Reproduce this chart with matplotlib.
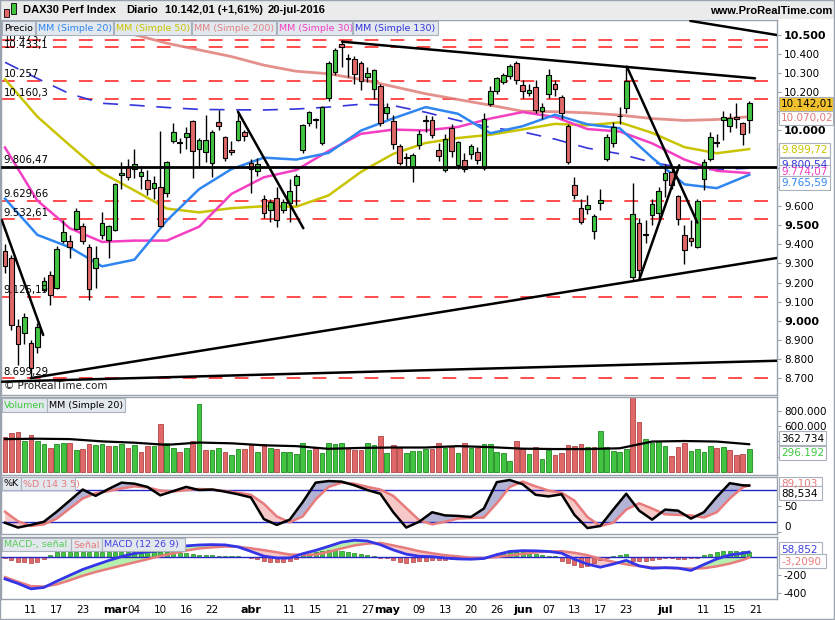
import numpy as np
import matplotlib
matplotlib.use("Agg")
import matplotlib.pyplot as plt
from matplotlib.patches import Rectangle

# daily candles 5-feb-2016 .. 20-jul-2016
opens = [9367, 9329, 8974, 8935, 8885, 8860, 9161, 9240, 9171, 9418,
         9418, 9481, 9498, 9388, 9276, 9450, 9423, 9476, 9764, 9805,
         9796, 9760, 9740, 9696, 9700, 9670, 9940, 9935, 9963, 10047,
         9900, 9885, 9827, 10042, 9963, 9895, 9948, 9990, 9826, 9785,
         9638, 9580, 9643, 9580, 9617, 9712, 9895, 10037, 10058, 9932,
         10168, 10304, 10451, 10370, 10372, 10351, 10278, 10215, 10231, 10089,
         10047, 9916, 9855, 9806, 9921, 10052, 10052, 9895, 9790, 10010,
         9816, 9843, 9874, 9885, 9800, 10136, 10204, 10252, 10283, 10351,
         10236, 10194, 10225, 10100, 10189, 10241, 10175, 10021, 9712, 9591,
         9586, 9472, 9616, 9848, 9932, 10073, 10114, 9231, 9511, 9455,
         9554, 9563, 9738, 9781, 9654, 9449, 9434, 9388, 9743, 9846,
         9935, 10052, 10021, 10070, 10035, 10050]
highs = [9400, 9345, 9010, 9040, 8900, 8990, 9230, 9260, 9390, 9530,
         9450, 9590, 9510, 9400, 9390, 9570, 9500, 9720, 9830, 9850,
         9900, 9810, 9790, 9760, 9995, 9840, 10037, 9960, 10016, 10052,
         9960, 10080, 10000, 10105, 9970, 9940, 10090, 10000, 9850, 9855,
         9660, 9640, 9700, 9640, 9745, 9770, 10030, 10100, 10065, 10125,
         10360, 10430, 10474, 10400, 10390, 10360, 10330, 10320, 10240, 10140,
         10080, 9925, 9880, 9880, 10000, 10080, 10075, 9930, 9980, 10030,
         9940, 9880, 9925, 9910, 10090, 10230, 10280, 10300, 10345, 10360,
         10260, 10240, 10260, 10140, 10320, 10260, 10185, 10030, 9755, 9640,
         9660, 9560, 9690, 9980, 10040, 10120, 10335, 9720, 9540, 9530,
         9640, 9700, 9820, 9800, 9660, 9500, 9530, 9640, 9850, 9990,
         9980, 10100, 10090, 10140, 10040, 10150]
lows = [9250, 8950, 8770, 8880, 8699, 8830, 9150, 9080, 9165, 9410,
        9330, 9475, 9400, 9110, 9170, 9430, 9330, 9470, 9690, 9740,
        9750, 9690, 9660, 9640, 9490, 9650, 9930, 9880, 9900, 9748,
        9811, 9830, 9753, 10000, 9840, 9870, 9940, 9940, 9668, 9760,
        9540, 9520, 9490, 9565, 9520, 9605, 9880, 10020, 10010, 9920,
        10150, 10290, 10330, 10280, 10240, 10210, 10250, 10160, 10020, 10060,
        9900, 9815, 9810, 9727, 9900, 9990, 9960, 9840, 9780, 9860,
        9795, 9780, 9850, 9820, 9790, 10125, 10190, 10240, 10270, 10240,
        10170, 10180, 10090, 10060, 10170, 10180, 10060, 9820, 9640, 9505,
        9560, 9430, 9580, 9840, 9910, 10030, 10090, 9214, 9220, 9410,
        9500, 9540, 9650, 9690, 9500, 9297, 9390, 9380, 9685, 9840,
        9910, 9950, 9990, 10010, 9920, 9986]
closes = [9286, 8979, 8879, 9018, 8752, 8967, 9206, 9135, 9377, 9464,
          9388, 9574, 9416, 9167, 9331, 9513, 9495, 9717, 9776, 9752,
          9824, 9778, 9692, 9723, 9498, 9831, 9990, 9933, 9983, 9892,
          9950, 9948, 9990, 10022, 9851, 9887, 10046, 9966, 9794, 9822,
          9564, 9624, 9530, 9622, 9682, 9761, 10027, 10094, 10051, 10120,
          10350, 10421, 10435, 10373, 10294, 10259, 10300, 10315, 10039, 10123,
          9926, 9828, 9851, 9870, 9980, 10045, 9975, 9862, 9952, 9890,
          9935, 9795, 9916, 9842, 10057, 10205, 10272, 10286, 10333, 10263,
          10205, 10208, 10103, 10121, 10288, 10217, 10088, 9834, 9657, 9519,
          9606, 9550, 9631, 9962, 10015, 10071, 10257, 9557, 9268, 9447,
          9612, 9680, 9776, 9709, 9532, 9373, 9418, 9629, 9833, 9964,
          9930, 10068, 10062, 10058, 9981, 10142]
volumes_k = [454, 506, 519, 409, 480, 405, 362, 318, 362, 379,
             385, 288, 299, 362, 353, 366, 340, 340, 366, 310,
             353, 257, 340, 340, 623, 385, 320, 266, 320, 405,
             885, 288, 288, 310, 266, 222, 297, 300, 362, 257,
             362, 320, 297, 266, 257, 231, 375, 288, 320, 244,
             375, 362, 385, 320, 288, 288, 375, 353, 471, 244,
             353, 320, 244, 275, 275, 300, 300, 385, 310, 331,
             253, 375, 310, 310, 362, 362, 266, 244, 144, 405,
             300, 231, 331, 165, 288, 222, 244, 353, 340, 366,
             331, 331, 536, 331, 275, 266, 297, 1100, 650, 431,
             375, 405, 344, 209, 331, 385, 279, 297, 257, 340,
             320, 331, 288, 222, 235, 300]

# moving averages, read every 5th session
ma20 = [9640, 9450, 9385, 9285, 9320, 9525, 9690, 9795, 9855, 9845, 9880, 9997,
        10061, 10120, 10085, 9983, 10020, 10080, 10030, 10009, 9855, 9715, 9695, 9765]
ma30 = [9908, 9630, 9485, 9413, 9420, 9420, 9493, 9665, 9752, 9790, 9890, 9980,
        10002, 9998, 10016, 10060, 10094, 10068, 10005, 9992, 9930, 9845, 9786, 9774]
ma50 = [10266, 10070, 9920, 9775, 9683, 9588, 9568, 9590, 9600, 9598, 9657, 9780,
        9875, 9932, 9958, 9975, 10003, 10032, 10025, 10040, 9985, 9910, 9878, 9900]
ma130 = [10355, 10270, 10190, 10140, 10130, 10118, 10108, 10106, 10105, 10110, 10120, 10135,
         10128, 10093, 10050, 10014, 9990, 9952, 9905, 9875, 9830, 9800, 9791, 9800]
ma200 = [10680, 10650, 10615, 10560, 10500, 10455, 10420, 10385, 10340, 10308, 10295, 10265,
         10228, 10190, 10160, 10130, 10098, 10096, 10090, 10078, 10060, 10050, 10055, 10070]
vol_ma_k = [430, 435, 430, 400, 383, 355, 385, 375, 349, 338, 303, 315,
            320, 320, 338, 325, 305, 300, 300, 310, 398, 405, 398, 363]

# stochastic and MACD, read every 2nd session
stoch_k = [18, 9, 14, 20, 39, 60, 81, 69, 82, 94, 92, 86, 70, 78, 86, 80, 81, 77, 72, 66,
           25, 14, 24, 57, 94, 97, 96, 89, 80, 73, 38, 9, 20, 38, 32, 31, 29, 45, 95, 99,
           91, 71, 68, 72, 33, 8, 12, 43, 73, 41, 24, 43, 41, 26, 38, 67, 93, 89, 88.5]
stoch_d = [39, 21, 12, 15, 26, 45, 64, 74, 78, 83, 87, 85, 79, 77, 80, 82, 81, 78, 75, 71,
           54, 30, 19, 30, 62, 86, 94, 92, 86, 81, 69, 46, 23, 15, 20, 26, 27, 28, 55, 86,
           96, 87, 79, 75, 60, 29, 12, 18, 43, 55, 45, 34, 33, 32, 28, 38, 64, 85, 89]
macd = [-240, -290, -350, -335, -265, -200, -135, -85, -36, 8, 43, 61, 72, 95, 127, 137,
        141, 138, 116, 66, 13, -8, -8, 40, 77, 122, 168, 190, 181, 140, 82, 35, 12, 7,
        -8, -18, -21, -13, 30, 65, 74, 72, 65, 46, -21, -76, -110, -75, -34, -95, -122,
        -115, -120, -146, -80, -18, 26, 45, 59]
signal = [-220, -272, -320, -325, -300, -255, -205, -163, -127, -92, -56, -22, 14, 44, 75,
          99, 110, 120, 117, 100, 79, 56, 31, 28, 30, 60, 98, 132, 152, 160, 132, 102, 68,
          45, 24, 10, -4, -8, 4, 22, 37, 55, 64, 68, 50, 24, -17, -50, -78, -98, -112, -117,
          -121, -126, -121, -100, -70, -30, -3]
macd_hist = [-11, -30, -48, -56, -67, -56, -20, 30, 55, 58,
             60, 60, 58, 60, 62, 60, 58, 60, 62, 60,
             58, 58, 60, 60, 58, 55, 55, 52, 48, 37,
             30, 28, 26, 15, 12, 10, 10, 8, -5, -20,
             -40, -50, -55, -50, -40, -20, 31, 41, 55, 70,
             78, 81, 75, 62, 48, 35, 26, 18, -3, -11,
             -30, -48, -60, -56, -45, -40, -30, -30, -30, -20,
             -15, -11, -8, -5, -3, 20, 41, 55, 55, 63,
             55, 45, 37, 26, 18, 18, -41, -67, -85, -104,
             -93, -67, -30, -10, 10, 25, 35, -41, -41, -41,
             -30, -20, -11, -11, -15, -15, -11, -5, 31, 41,
             55, 65, 72, 70, 66, 62]

# horizontal levels and hand drawn trend lines (session index, price)
red_levels = [10473.7, 10433.1, 10257.0, 10160.3, 9629.66, 9532.61, 9125.19, 8699.29]
red_labels = ["10.473,7", "10.433,1", "10.257", "10.160,3", "9.629,66", "9.532,61", "9.125,19", "8.699,29"]
black_level = 9806.47
trend_lines = [((52.1, 10463), (115.9, 10271)), ((105.9, 10572), (119.3, 10498)),
               ((4, 8699), (119.3, 9329)), ((-0.7, 8680), (119.3, 8790)),
               ((-0.5, 9528), (5.9, 8925)), ((36.0, 10096), (46.1, 9485)),
               ((96.1, 10332), (107.0, 9514)), ((98.0, 9214), (104.2, 9815))]

date_pos = [4, 8, 12, 17, 20, 24, 28, 32, 38, 44, 48, 52, 56, 59, 64, 68, 72, 76, 80, 84,
            88, 92, 96, 102, 108, 112, 116]
date_txt = ["11", "17", "23", "mar", "04", "10", "16", "22", "abr", "11", "15", "21", "27",
            "may", "09", "13", "20", "26", "jun", "07", "13", "17", "23", "jul", "11", "15", "21"]
months = {"mar", "abr", "may", "jun", "jul"}

GREEN = '#41c441'
RED = '#e06868'
SALMON = '#e87c7c'
BLUE20 = '#2f86f0'
YEL = '#c9c400'
MAG = '#f43fc2'
NAVY = '#3434dc'
FRAME = '#9aa3ad'

W, H = 835, 620
fig = plt.figure(figsize=(W / 100, H / 100), dpi=100)
fig.patch.set_facecolor('white')


def fx(px):
    return px / W


def fy(py):
    return 1 - py / H


def panel(top, bottom):
    return fig.add_axes([fx(1), fy(bottom), 776 / W, (bottom - top) / H])


def rect(x0, y0, x1, y1, fc, ec='none', lw=0.8, z=5):
    fig.add_artist(Rectangle((fx(x0), fy(y1)), (x1 - x0) / W, (y1 - y0) / H,
                             transform=fig.transFigure, fc=fc, ec=ec, lw=lw, zorder=z))


def label(x, y, s, color='black', size=7.5, weight='normal', ha='left', family=None):
    kw = {'family': family} if family else {}
    fig.text(fx(x), fy(y), s, color=color, fontsize=size, fontweight=weight,
             ha=ha, va='center', zorder=6, **kw)


def legend_row(y0, y1, items):
    for txt, col, x0, x1 in items:
        rect(x0, y0, x1, y1, '#e3e8ee', '#a9b2bc')
        label(x0 + 2, (y0 + y1) / 2 + 0.5, txt, col, size=6.8)


def tag(y, s, col, fc='white', x1=833):
    rect(779, y - 7, x1, y + 7, fc, '#a9b2bc')
    label(781, y + 0.5, s, col, size=7.5)


def dotted(v):
    return f"{int(v):,}".replace(",", ".")


n = len(closes)
days = np.arange(n)
every5 = np.arange(0, n, 5)
every2 = np.append(np.arange(0, n - 1, 2), n - 1)
o, h, l, c = (np.array(a, dtype=float) for a in (opens, highs, lows, closes))

ax = panel(20, 395)
axv = panel(397, 475)
axs = panel(477, 534)
axm = panel(537, 599)
for a in (ax, axv, axs, axm):
    a.set_xlim(-0.62, 119.3)
    a.yaxis.tick_right()
    a.tick_params(axis='y', direction='out', length=3, color=FRAME, labelsize=7.5, pad=2)
    a.tick_params(axis='x', length=0)
    a.set_xticks([])
    for s in a.spines.values():
        s.set_color(FRAME)
        s.set_linewidth(1)

# ---- price panel ----
ax.set_ylim(8610.4, 10576.8)
ticks = np.arange(8700, 10501, 100)
ax.set_yticks(ticks)
ax.set_yticklabels([dotted(t) for t in ticks])
for t, lab in zip(ticks, ax.get_yticklabels()):
    if t % 500 == 0:
        lab.set_fontweight('bold')
        lab.set_fontsize(8)

for k, (lev, txt) in enumerate(zip(red_levels, red_labels)):
    ax.axhline(lev, xmax=0.988, color='#ff1a1a', lw=1.1, dashes=(9, 8), zorder=1)
    if k < 2:
        # the two top labels sit on their lines, just under the legend row
        ax.text(-0.2, lev + 10, txt, fontsize=7.3, va='center', ha='left', zorder=5)
    else:
        ax.text(-0.2, lev + 8, txt, fontsize=7.3, va='bottom', ha='left', zorder=5)
ax.axhline(black_level, color='black', lw=2, zorder=4)
ax.text(-0.2, black_level + 8, "9.806,47", fontsize=7.3, va='bottom', ha='left', zorder=5)

ax.plot(every5, ma200, color='#e07d78', lw=2, alpha=0.85, zorder=2)
ax.plot(every5, ma130, color=NAVY, lw=1.2, dashes=(9, 7), zorder=2)
ax.plot(every5, ma50, color=YEL, lw=1.8, zorder=2)
ax.plot(every5, ma30, color=MAG, lw=1.8, zorder=2)
ax.plot(every5, ma20, color=BLUE20, lw=1.8, zorder=2)

up = c >= o
ax.vlines(days, l, h, color='black', lw=1, zorder=3)
ax.bar(days, np.maximum(np.abs(c - o), 5), bottom=np.minimum(o, c), width=0.72,
       color=np.where(up, GREEN, RED), edgecolor='black', lw=0.8, zorder=3)

for (x0, y0), (x1, y1) in trend_lines:
    ax.plot([x0, x1], [y0, y1], color='black', lw=1.8, zorder=4, solid_capstyle='round')

ax.text(-0.2, 8655, "© ProRealTime.com", fontsize=7.5, va='center', color='#222222')

# ---- volume panel ----
axv.set_ylim(-39000, 980000)
vol = np.array(volumes_k) * 1000
vol_up = np.r_[False, c[1:] >= c[:-1]]
axv.bar(days, vol, width=0.72, color=np.where(vol_up, GREEN, RED),
        edgecolor=np.where(vol_up, '#1e8a1e', '#b04444'), lw=0.6, zorder=2)
axv.plot(every5, np.array(vol_ma_k) * 1000, color='black', lw=1.6, zorder=3)
vt = [200000, 400000, 600000, 800000]
axv.set_yticks(vt)
axv.set_yticklabels([dotted(v) for v in vt])

# ---- stochastic panel ----
axs.set_ylim(-3.2, 104.7)
kk, dd = np.array(stoch_k, float), np.array(stoch_d, float)
axs.fill_between(every2, kk, dd, where=kk >= dd, interpolate=True, color='#b3b3d6', lw=0)
axs.fill_between(every2, kk, dd, where=kk < dd, interpolate=True, color='#f6c8c8', lw=0)
axs.axhline(80, color='#2626c8', lw=1)
axs.axhline(20, color='#2626c8', lw=1)
axs.plot(every2, dd, color=SALMON, lw=1.8)
axs.plot(every2, kk, color='black', lw=1.8)
axs.set_yticks([0, 50])
axs.set_yticklabels(["0", "50"])
axs.get_yticklabels()[0].set_va('bottom')

# ---- MACD panel ----
axm.set_ylim(-463, 225.6)
mm, ss = np.array(macd, float), np.array(signal, float)
hist = np.array(macd_hist, float)
axm.fill_between(every2, mm, ss, where=mm >= ss, interpolate=True, color='#b6f0ae', lw=0)
axm.fill_between(every2, mm, ss, where=mm < ss, interpolate=True, color='#f6c8c8', lw=0)
axm.bar(days, hist, width=0.62, color=np.where(hist >= 0, GREEN, RED),
        edgecolor=np.where(hist >= 0, '#1e8a1e', '#b04444'), lw=0.5, zorder=2)
axm.axhline(0, color='#2626c8', lw=1, zorder=3)
axm.plot(every2, ss, color=SALMON, lw=1.8, zorder=4)
axm.plot(every2, mm, color='#3434e8', lw=2, zorder=4)
axm.set_yticks([-400, -200])
axm.set_yticklabels(["-400", "-200"])

axm.set_xticks(date_pos)
axm.set_xticklabels(date_txt, fontsize=7.5)
axm.tick_params(axis='x', length=0, pad=4)
for lab in axm.get_xticklabels():
    if lab.get_text() in months:
        lab.set_fontweight('bold')
        lab.set_fontsize(8)

# ---- header, legends and value tags ----
rect(0, 0, 835, 19, '#ebebeb', z=4)
rect(4, 9, 9, 17, RED, 'black', 0.6, z=5)
rect(11, 3, 16, 14, GREEN, 'black', 0.6, z=5)
label(23, 10, "DAX30 Perf Index", size=8, weight='bold', family='Liberation Sans')
label(126, 10, "Diario", size=8, weight='bold', family='Liberation Sans')
label(165, 10, "10.142,01 (+1,61%)", size=8, weight='bold', family='Liberation Sans')
label(268, 10, "20-jul-2016", size=8, weight='bold', family='Liberation Sans')
label(832, 11, "www.ProRealTime.com", size=8, weight='bold', ha='right', family='Liberation Sans')

legend_row(21, 35, [("Precio", 'black', 2, 35), ("MM (Simple 20)", BLUE20, 36, 113),
                    ("MM (Simple 50)", YEL, 114, 191), ("MM (Simple 200)", '#e08383', 192, 276),
                    ("MM (Simple 30)", MAG, 277, 352), ("MM (Simple 130)", NAVY, 353, 438)])
legend_row(398, 412, [("Volumen", '#3cc83c', 2, 47), ("MM (Simple 20)", 'black', 47, 125)])
legend_row(477, 490, [("%K", 'black', 2, 21), ("%D (14 3 5)", SALMON, 21, 75)])
legend_row(538, 551, [("MACD-, señal", '#55cc55', 2, 71), ("Señal", SALMON, 71, 102),
                      ("MACD (12 26 9)", '#4040e0', 102, 185)])

tag(103.5, "10.142,01", 'black', fc='#f2c12e')
tag(118, "10.070,02", '#e07a7a')
tag(150, "9.899,72", YEL, x1=830)
tag(165, "9.800,54", NAVY, x1=830)
tag(172, "9.774,07", MAG, x1=830)
tag(183, "9.765,59", BLUE20, x1=830)
tag(438, "362.734", 'black', x1=826)
tag(453, "296.192", '#3cc83c', x1=826)
tag(484, "89,103", SALMON, x1=822)
tag(493, "88,534", 'black', x1=822)
tag(549, "58,852", '#4040e0', x1=822)
tag(561, "-3,2090", SALMON, x1=826)

rect(0, 0, 834, 619, 'none', FRAME, 1, z=7)

fig.savefig("out.png", dpi=100)
